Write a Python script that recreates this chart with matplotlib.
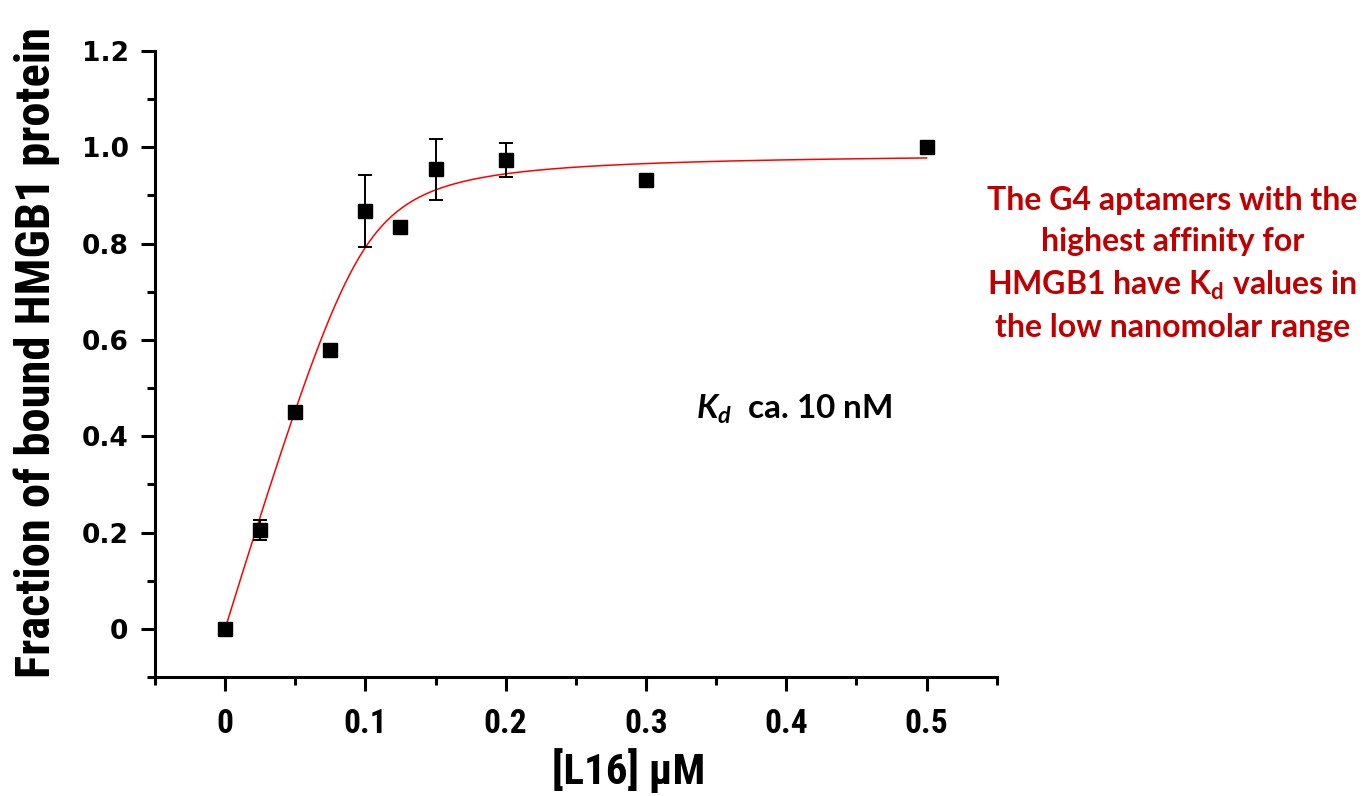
import numpy as np
import matplotlib
matplotlib.use("Agg")
import matplotlib.pyplot as plt
from matplotlib.ticker import MultipleLocator, FuncFormatter

# binding titration of HMGB1 with L16
conc = [0, 0.025, 0.05, 0.075, 0.1, 0.125, 0.15, 0.2, 0.3, 0.5]
bound = [0, 0.205, 0.451, 0.578, 0.867, 0.834, 0.954, 0.974, 0.933, 1.0]
err = [0, 0.02, 0, 0, 0.075, 0, 0.064, 0.035, 0, 0]

# tight-binding (quadratic) fit parameters, uM
kd = 0.005
protein = 0.1
bmax = 0.99

narrow = ["Roboto Condensed", "Roboto", "DejaVu Sans"]
rounded = ["Lato", "DejaVu Sans"]

plt.rcParams["mathtext.fontset"] = "custom"
plt.rcParams["mathtext.it"] = "Lato:italic:bold"
plt.rcParams["mathtext.rm"] = "Lato:bold"
plt.rcParams["mathtext.bf"] = "Lato:bold"


def quad_fit(x):
    s = protein + x + kd
    return bmax * (s - np.sqrt(s ** 2 - 4 * protein * x)) / (2 * protein)


fig = plt.figure(figsize=(13.71, 7.96), dpi=100)
ax = fig.add_axes([0.113, 0.1495, 0.614, 0.7865])

xfit = np.linspace(0, 0.5, 300)
ax.plot(xfit, quad_fit(xfit), color="red", lw=1.1, zorder=2)

yerr = [e if e > 0 else np.nan for e in err]
ax.errorbar(conc, bound, yerr=yerr, fmt="s", color="black", ms=10,
            ecolor="black", elinewidth=1.4, capsize=5, capthick=1.4, zorder=3)

ax.set_xlim(-0.05, 0.55)
ax.set_ylim(-0.1, 1.2)

for side in ["top", "right"]:
    ax.spines[side].set_visible(False)
for side in ["left", "bottom"]:
    ax.spines[side].set_linewidth(2.2)

ax.xaxis.set_major_locator(MultipleLocator(0.1))
ax.xaxis.set_minor_locator(MultipleLocator(0.05))
ax.yaxis.set_major_locator(MultipleLocator(0.2))
ax.yaxis.set_minor_locator(MultipleLocator(0.1))

fmt = FuncFormatter(lambda v, p: "0" if abs(v) < 1e-9 else f"{v:.1f}")
ax.xaxis.set_major_formatter(fmt)
ax.yaxis.set_major_formatter(fmt)

ax.tick_params(which="major", direction="out", length=10, width=2.2)
ax.tick_params(which="minor", direction="out", length=6, width=2.2)
ax.tick_params(axis="x", which="major", pad=12)
ax.tick_params(axis="y", which="major", pad=9)

for lab in ax.get_xticklabels():
    lab.set_fontfamily(narrow)
    lab.set_fontweight("bold")
    lab.set_fontsize(24)
for lab in ax.get_yticklabels():
    lab.set_fontfamily(["DejaVu Sans"])
    lab.set_fontweight("bold")
    lab.set_fontsize(19)

ax.set_xlabel("[L16] \u00b5M", family=narrow, weight="bold", fontsize=31)
ax.xaxis.set_label_coords(0.563, -0.113)
ax.set_ylabel("Fraction of bound HMGB1 protein", family=narrow, weight="bold",
              fontsize=35)
ax.yaxis.set_label_coords(-0.113, 0.519)

ax.text(0.336, 0.456, r"$K_d$  ca. 10 nM", family=rounded, weight="bold",
        fontsize=24, ha="left", va="center")

fig.text(0.855, 0.668,
         "The G4 aptamers with the\nhighest affinity for\n"
         "HMGB1 have K$_\\mathregular{d}$ values in\nthe low nanomolar range",
         family=rounded, weight="bold", fontsize=23, color="#C00000",
         ha="center", va="center", linespacing=1.48)

fig.savefig("out.png", dpi=100)
